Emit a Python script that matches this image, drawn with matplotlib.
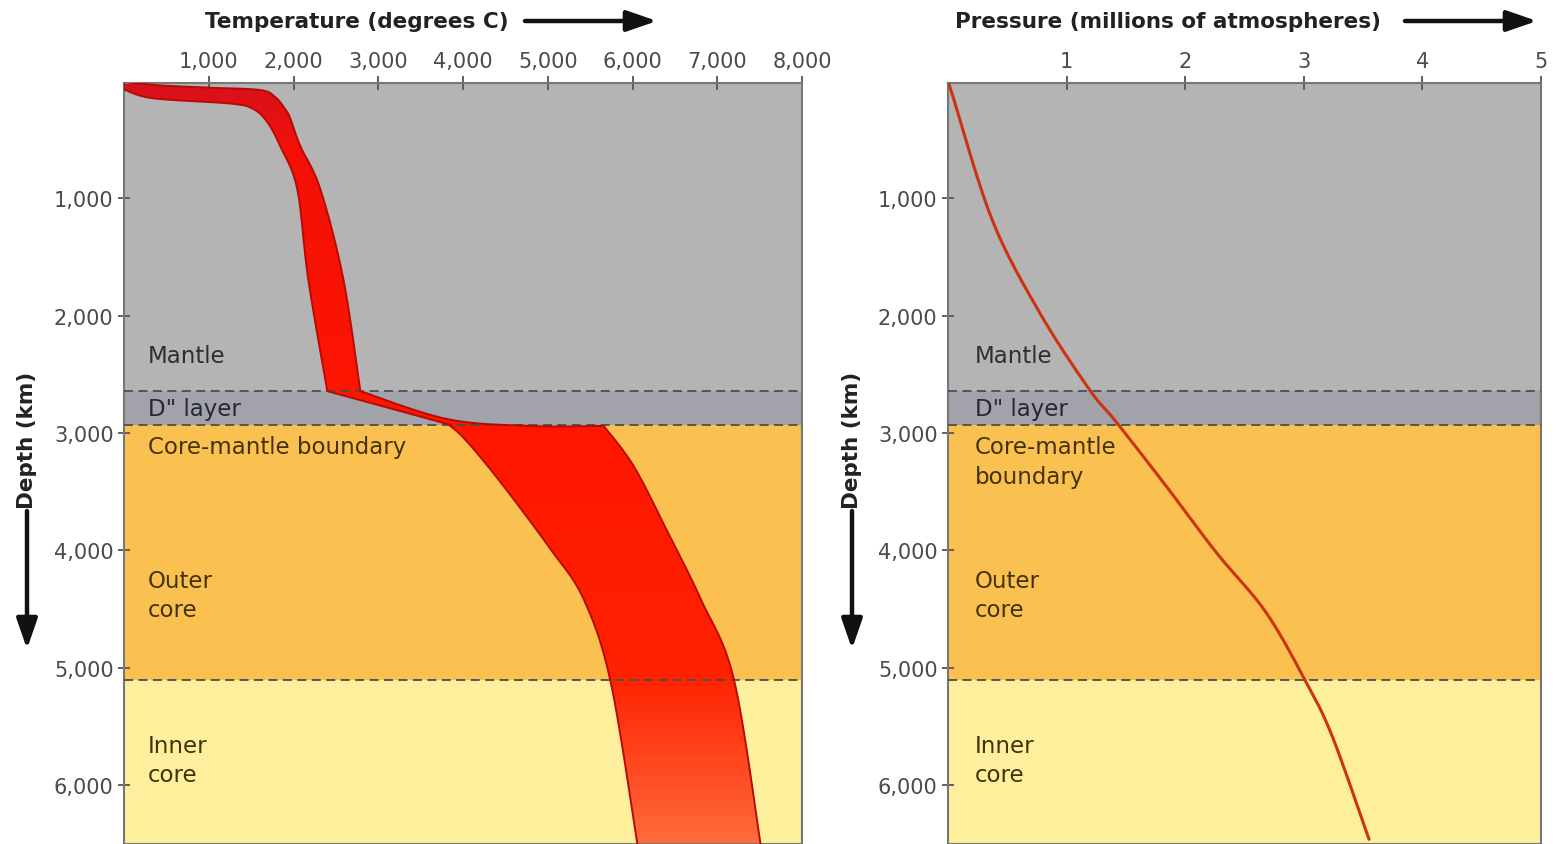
import numpy as np
import matplotlib
matplotlib.use("Agg")
import matplotlib.pyplot as plt
from matplotlib.patches import Polygon, FancyArrowPatch
from matplotlib.colors import LinearSegmentedColormap
from matplotlib.ticker import FuncFormatter
from matplotlib.transforms import blended_transform_factory

plt.rcParams['font.family'] = ['DejaVu Sans']

# ---- data -------------------------------------------------------------
# layer boundaries (depth, km)
layer_tops = [0, 2640, 2930, 5100]
layer_bottoms = [2640, 2930, 5100, 6500]
layer_colors = ['#b4b4b4', '#a2a2aa', '#fbc150', '#fdef9c']

# temperature band: hot (upper/right) edge, surface -> bottom
hot_temp = [0, 425, 1016, 1607, 1784, 1900, 1961, 2080, 2316, 2588, 2789,
            3817, 4797, 5660, 6014, 6416, 6806, 7196, 7515]
hot_depth = [10, 40, 60, 80, 140, 240, 320, 557, 923, 1690, 2644,
             2882, 2940, 2940, 3283, 3845, 4416, 5097, 6520]
hot_corners = [10, 13]
# cool (lower/left) edge, surface -> bottom
cool_temp = [0, 343, 1253, 1524, 1690, 1843, 2044, 2174, 2399, 3734,
             3852, 4053, 4443, 5034, 5424, 5743, 6062]
cool_depth = [75, 150, 195, 241, 353, 557, 923, 1690, 2644, 2908,
              2942, 3078, 3419, 3990, 4416, 5123, 6520]
cool_corners = [8]

# pressure profile (millions of atmospheres vs depth)
pressure = [0.0, 0.03, 0.37, 0.77, 1.19, 1.42, 1.84, 2.26, 2.68, 3.02, 3.24, 3.55]
pressure_depth = [20, 97, 1179, 1971, 2627, 2908, 3453, 4015, 4526, 5123, 5583, 6460]

temp_ticks = [1000, 2000, 3000, 4000, 5000, 6000, 7000, 8000]
pressure_ticks = [1, 2, 3, 4, 5]
depth_ticks = [1000, 2000, 3000, 4000, 5000, 6000]

left_labels = [("Mantle", 2337), ('D" layer', 2789), ("Core-mantle boundary", 3113),
               ("Outer", 4254), ("core", 4501), ("Inner", 5659), ("core", 5906)]
right_labels = [("Mantle", 2337), ('D" layer', 2789), ("Core-mantle", 3113),
                ("boundary", 3368), ("Outer", 4254), ("core", 4501),
                ("Inner", 5659), ("core", 5906)]
label_colors = {"Mantle": '#2e2e2e', 'D" layer': '#26263a'}
core_text = '#43320a'


def smooth_curve(xs, ys, corners=(), steps=24):
    """Catmull-Rom style cubic curve through every point, kept sharp at the
    listed corner indices; returns a dense (N, 2) vertex array."""
    pts = np.column_stack([xs, ys]).astype(float)
    cuts = [0] + sorted(corners) + [len(pts) - 1]
    t = np.linspace(0, 1, steps)[1:, None]
    out = [pts[:1]]
    for a, b in zip(cuts[:-1], cuts[1:]):
        seg = pts[a:b + 1]
        ext = np.vstack([seg[0], seg, seg[-1]])
        for i in range(1, len(ext) - 2):
            p0, p1, p2, p3 = ext[i - 1], ext[i], ext[i + 1], ext[i + 2]
            c1 = p1 + (p2 - p0) / 6.0
            c2 = p2 - (p3 - p1) / 6.0
            out.append((1 - t) ** 3 * p1 + 3 * (1 - t) ** 2 * t * c1
                       + 3 * (1 - t) * t ** 2 * c2 + t ** 3 * p2)
    return np.vstack(out)


# ---- figure -------------------------------------------------------------
W, H = 1556, 845
fig = plt.figure(figsize=(W / 100, H / 100), dpi=100)
ax1 = fig.add_axes([124 / W, 0, 678 / W, 761 / H])
ax2 = fig.add_axes([948 / W, 0, 593 / W, 761 / H])

DEPTH_MAX, DEPTH_MIN = 6500, 20
tick_color = '#4a4a4a'


def style_axes(ax, xmax, xticks, xfmt, label_x, labels):
    for top, bot, col in zip(layer_tops, layer_bottoms, layer_colors):
        ax.axhspan(top, bot, color=col, lw=0, zorder=0)
    for b in layer_tops[1:]:
        ax.axhline(b, color='#4d4d4d', lw=1.3, ls=(0, (5, 3)), zorder=3)
    ax.set_xlim(0, xmax)
    ax.set_ylim(DEPTH_MAX, DEPTH_MIN)
    ax.xaxis.tick_top()
    ax.set_xticks(xticks)
    ax.xaxis.set_major_formatter(FuncFormatter(xfmt))
    ax.set_yticks(depth_ticks)
    ax.yaxis.set_major_formatter(FuncFormatter(lambda v, p: f"{int(v):,}"))
    ax.tick_params(axis='x', direction='inout', length=10, width=1.3,
                   color='#555555', labelsize=15, labelcolor=tick_color, pad=4)
    ax.tick_params(axis='y', direction='inout', length=9, width=1.3,
                   color='#555555', labelsize=15, labelcolor=tick_color, pad=3)
    for s in ax.spines.values():
        s.set_color('#777777')
        s.set_linewidth(1.5)
    tr = blended_transform_factory(ax.transAxes, ax.transData)
    for text, d in labels:
        col = label_colors.get(text, core_text)
        ax.text(label_x, d, text, transform=tr, fontsize=16.5, color=col,
                va='center', ha='left', zorder=5)


style_axes(ax1, 8000, temp_ticks, lambda v, p: f"{int(v):,}", 0.035, left_labels)
style_axes(ax2, 5, pressure_ticks, lambda v, p: f"{int(v)}", 0.045, right_labels)

# temperature band with a vertical colour gradient
hot_edge = smooth_curve(hot_temp, hot_depth, hot_corners)
cool_edge = smooth_curve(cool_temp, cool_depth, cool_corners)
outline = np.vstack([hot_edge, cool_edge[::-1]])
band = Polygon(outline, closed=True, facecolor='none', edgecolor='#b80a05',
               lw=1.4, zorder=4)
ax1.add_patch(band)
band_cmap = LinearSegmentedColormap.from_list(
    "band", [(0.0, '#d8101c'), (0.08, '#f41008'), (0.45, '#ff1600'),
             (0.78, '#ff2200'), (1.0, '#ff6a3c')])
grad = np.linspace(0, 1, 400).reshape(-1, 1)
img = ax1.imshow(grad, cmap=band_cmap, extent=(0, 8000, DEPTH_MAX, DEPTH_MIN),
                 origin='upper', aspect='auto', zorder=2)
img.set_clip_path(band)
ax1.set_xlim(0, 8000)
ax1.set_ylim(DEPTH_MAX, DEPTH_MIN)

# pressure curve
p_curve = smooth_curve(pressure, pressure_depth)
ax2.plot(p_curve[:, 0], p_curve[:, 1], color='#cc3311', lw=2.2, zorder=4,
         solid_capstyle='round')


# axis titles with arrows
def fx(px):
    return px / W


def fy(py):
    return 1 - py / H


title_kw = dict(fontsize=15.5, fontweight='bold', color='#222222')
fig.text(fx(205), fy(22), "Temperature (degrees C)", ha='left', va='center', **title_kw)
fig.text(fx(955), fy(22), "Pressure (millions of atmospheres)", ha='left',
         va='center', **title_kw)
arrow_kw = dict(arrowstyle='-|>,head_length=1.3,head_width=0.45', lw=3.2,
                color='#111111', shrinkA=0, shrinkB=0, mutation_scale=14,
                transform=fig.transFigure)
fig.add_artist(FancyArrowPatch((fx(525), fy(22)), (fx(657), fy(22)), **arrow_kw))
fig.add_artist(FancyArrowPatch((fx(1405), fy(22)), (fx(1537), fy(22)), **arrow_kw))

for xc in (27, 852):
    fig.text(fx(xc), fy(440), "Depth (km)", rotation=90, ha='center',
             va='center', **title_kw)
    fig.add_artist(FancyArrowPatch((fx(xc), fy(512)), (fx(xc), fy(650)), **arrow_kw))

fig.savefig("out.png", dpi=100, facecolor='white')
